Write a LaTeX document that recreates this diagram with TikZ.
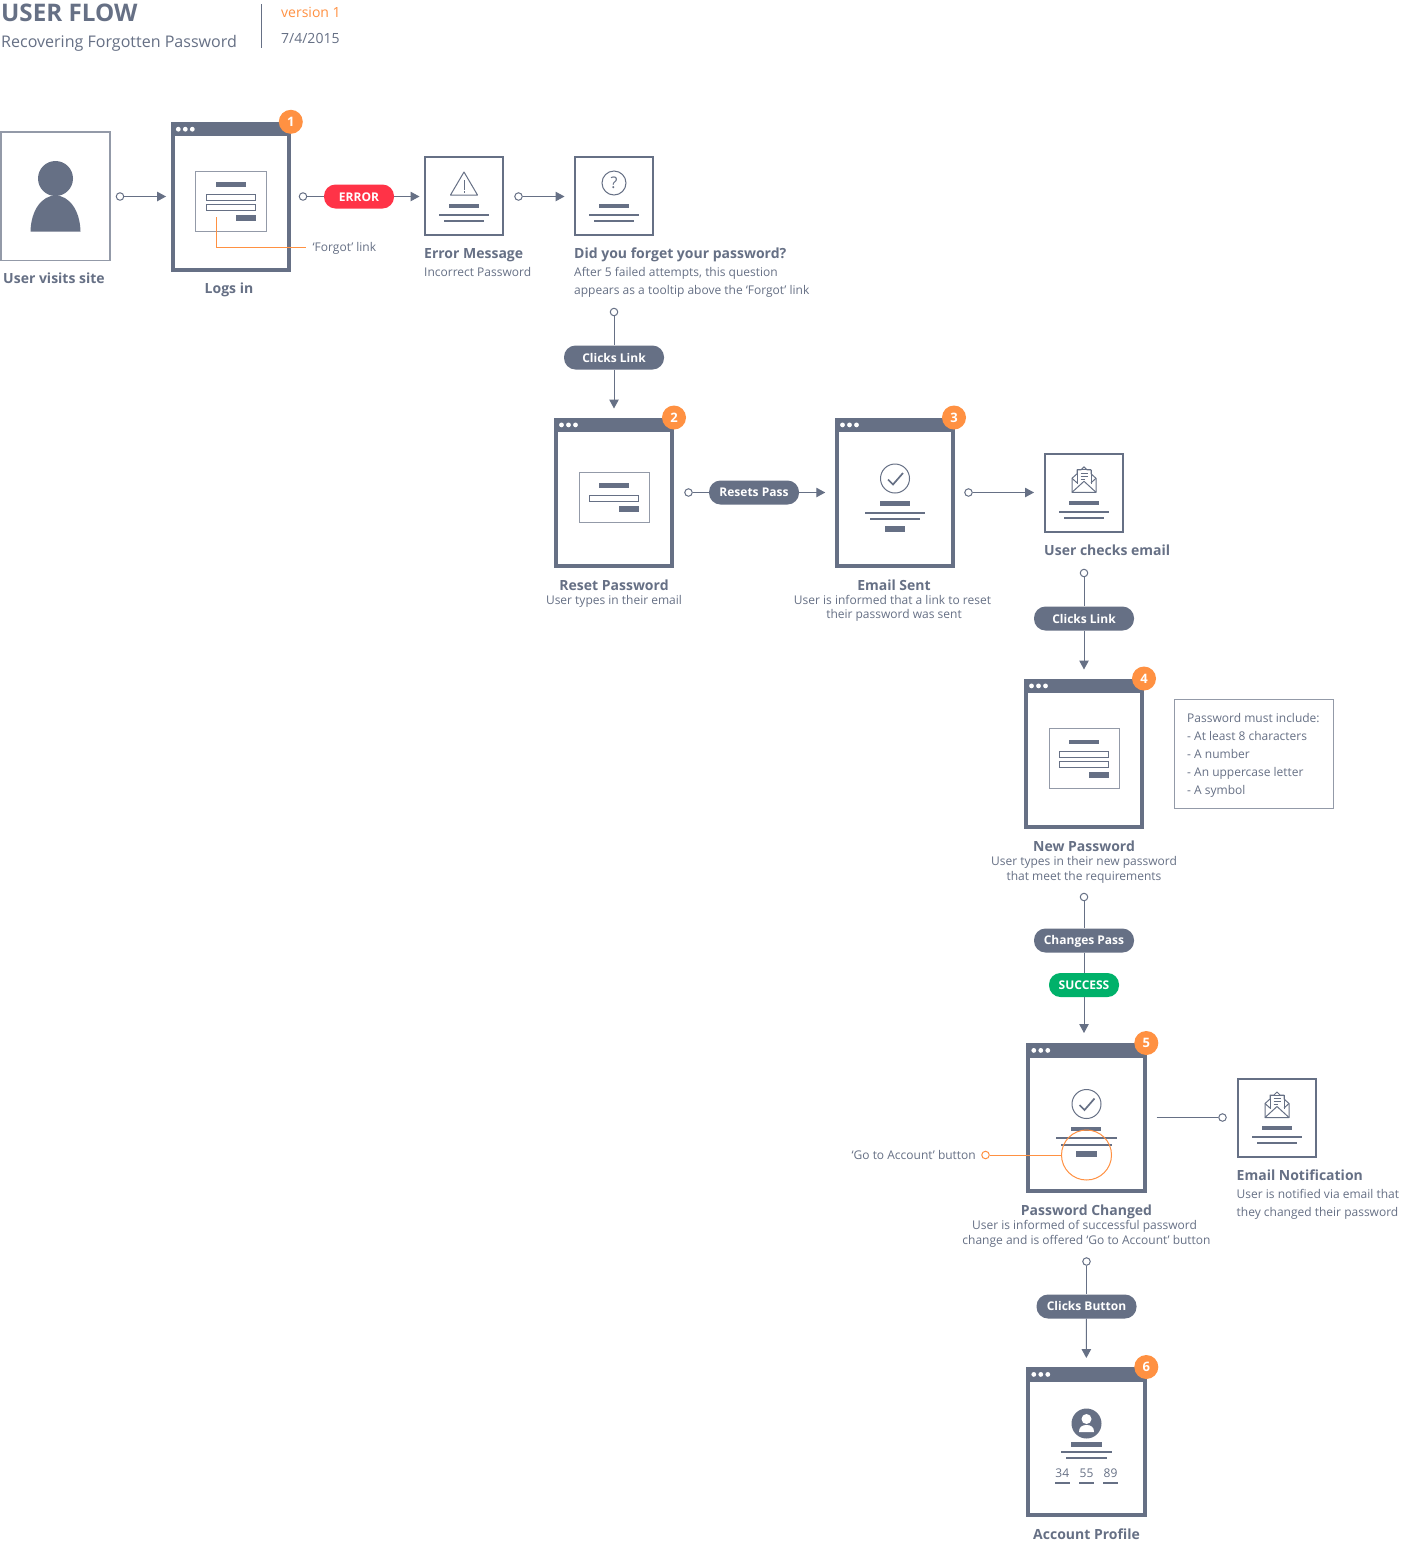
\documentclass[tikz,border=0pt]{standalone}
\usepackage{fontspec}
\setmainfont{Open Sans}
\usetikzlibrary{arrows.meta}
\definecolor{ink}{HTML}{667085}
\definecolor{soft}{HTML}{939AA8}
\definecolor{org}{HTML}{FF9142}
\definecolor{redp}{HTML}{FF3347}
\definecolor{grn}{HTML}{00B16A}
\newcommand{\fs}[2]{\fontsize{#1}{#2}\selectfont}
\newcommand{\bdgx}{60}
\tikzset{
  screenbox/.style={draw=ink,line width=4pt,fill=white,minimum width=116.5pt,minimum height=146pt,inner sep=0pt},
  iconbox/.style={draw=ink,line width=2pt,fill=white,minimum width=78pt,minimum height=78pt,inner sep=0pt},
  badge/.style={circle,fill=org,text=white,font=\bfseries\fs{13}{15},minimum size=24pt,inner sep=0pt},
  pillbox/.style={rounded corners=11.5pt,fill=ink,text=white,font=\bfseries\fs{12}{14},minimum height=24pt,inner sep=0pt,text height=10pt,text depth=1pt},
  pillup/.style={pillbox,text height=9pt,text depth=2pt},
  startdot/.style={circle,draw=ink,fill=white,line width=1pt,minimum size=7.5pt,inner sep=0pt},
  orgdot/.style={circle,draw=org,fill=white,line width=1pt,minimum size=7.5pt,inner sep=0pt},
  flow/.style={draw=ink,line width=1pt,-{Triangle[length=9pt,width=9.5pt]}},
  plainflow/.style={draw=ink,line width=1pt},
  callout/.style={draw=org,line width=1pt},
  head/.style={text=ink,font=\bfseries\fs{14}{17},inner sep=0pt},
  body/.style={text=ink,font=\fs{12}{14.5},inner sep=0pt,align=center},
  leftbody/.style={text=ink,font=\fs{12}{18},inner sep=0pt,align=left,anchor=north west},
}
% window with title bar and number badge
\newcommand{\screen}[4]{%
  \node[screenbox] (#1) at (#2,#3) {};
  \begin{scope}[shift={(#2,#3)}]
    \fill[ink] (-60,-75) rectangle (60,-60.5);
    \foreach \dx in {7.5,14.5,21.5} \fill[white] (-60+\dx,-67.6) circle (2.4);
    \node[badge] (#1num) at (\bdgx,-75) {#4};
  \end{scope}}
\newcommand{\formbar}[4]{\fill[ink] (#1,#2) rectangle (#3,#4);}
\newcommand{\envelope}[2]{%
  \begin{scope}[shift={(#1,#2)},draw=ink,line width=1pt,line join=round]
    \draw (-12,11.5) -- (-12,25.5) -- (12,25.5) -- (12,11.5) -- (7,7) -- (7,3) -- (3,3) -- (0,0) -- (-3,3) -- (-7,3) -- (-7,7) -- cycle;
    \draw (-7,3) -- (7,3) (-7,3) -- (-7,17) (7,3) -- (7,17);
    \draw (-12,11.5) -- (-7,16) (12,11.5) -- (7,16);
    \draw (-12,25.5) -- (0,14.5) -- (12,25.5);
    \draw (-3.5,6.5) -- (3.5,6.5) (-3.5,9.5) -- (3.5,9.5) (-3.5,12.5) -- (1,12.5);
  \end{scope}}
\newcommand{\boxbars}[2]{%
  \begin{scope}[shift={(#1,#2)}]
    \fill[ink] (-15,0) rectangle (15,4);
    \fill[ink] (-25,10) rectangle (25,12);
    \fill[ink] (-20,16) rectangle (20,18);
  \end{scope}}
\begin{document}
\begin{tikzpicture}[x=1pt,y=-1pt]
\useasboundingbox (0,0) rectangle (1402,1543);
\fill[white] (0,0) rectangle (1402,1543);

% header
\node[anchor=base west,inner sep=0pt,text=ink,font=\bfseries\fs{24.2}{28}] (title) at (1,21) {USER FLOW};
\node[anchor=base west,inner sep=0pt,text=ink,font=\fs{16.05}{19}] (subtitle) at (1,47) {Recovering Forgotten Password};
\node[anchor=base west,inner sep=0pt,text=org,font=\fs{14}{16}] (version) at (281,17) {version 1};
\node[anchor=base west,inner sep=0pt,text=ink,font=\fs{14}{16}] (date) at (281,43) {7/4/2015};
\coordinate (rulet) at (261.5,4);
\coordinate (ruleb) at (261.5,48);
\draw[ink,line width=1pt] (rulet) -- (ruleb);

% user box
\node[draw=soft,line width=1.5pt,fill=white,minimum width=109pt,minimum height=128.5pt,inner sep=0pt] (user) at (55.5,196.2) {};
\fill[ink] (55.5,178.5) circle (17.5);
\fill[ink] (30.5,231.5) .. controls (31,210) and (42,195.5) .. (55.5,195.5) .. controls (69,195.5) and (80,210) .. (80.5,231.5) -- cycle;
\node[head] (userl) at (54,278) {User visits site};

% window 1
\screen{win1}{230.8}{196.8}{1}
\node[draw=soft,line width=1pt,fill=white,minimum width=70.5pt,minimum height=60pt,inner sep=0pt] (form1) at (230.8,201) {};
\formbar{216}{182}{246}{186.5}
\draw[ink,line width=1pt] (206.5,194.5) rectangle (255.5,200);
\draw[ink,line width=1pt] (206.5,204.5) rectangle (255.5,210);
\formbar{236}{214.5}{256}{220.5}
\node[head] (logl) at (229,290) {Logs in};
\coordinate (fg0) at (216.5,217);
\coordinate (fg1) at (306,247);
\draw[callout] (fg0) |- (fg1);
\node[anchor=west,inner sep=0pt,text=ink,font=\fs{12}{14}] (fgl) at (312.5,248) {‘Forgot’ link};

% row 1 connectors
\node[startdot] (d1) at (120,196.5) {};
\draw[flow,shorten >=4.5pt] (d1) -- (win1.west |- d1);
\node[startdot] (d2) at (303,196.5) {};
\node[pillbox,fill=redp,minimum width=70pt] (err) at (359,196.5) {ERROR};
\draw[plainflow] (d2) -- (err);

% error box
\node[iconbox] (ebox) at (464,196) {};
\draw[ink,line width=1pt,line join=round] (464,172) -- (450.5,195) -- (477.5,195) -- cycle;
\draw[ink,line width=1pt] (464,180) -- (464,189.5) (464,191) -- (464,192.5);
\boxbars{464}{203.5}
\draw[flow,shorten >=4.5pt] (err) -- (ebox.west |- err);
\node[head,anchor=base west] (el) at (424,258) {Error Message};
\node[body,anchor=base west] (el2) at (424,276) {Incorrect Password};

% question box
\node[iconbox] (qbox) at (614,196) {};
\draw[ink,line width=1pt] (614,183) circle (12);
\node[inner sep=0pt,text=ink,font=\fs{16}{18}] (qm) at (614,183) {?};
\boxbars{614}{203.5}
\node[startdot] (d3) at (518.5,196.5) {};
\draw[flow,shorten >=9.5pt] (d3) -- (qbox.west |- d3);
\node[head,anchor=base west] (ql) at (574,258) {Did you forget your password?};
\node[leftbody] (ql2) at (574,267) {After 5 failed attempts, this question\\appears as a tooltip above the ‘Forgot’ link};

% to window 2
\node[startdot] (d4) at (614,312) {};
\node[pillbox,minimum width=100pt] (p1) at (614,357.5) {Clicks Link};
\screen{win2}{614}{492.5}{2}
\draw[plainflow] (d4) -- (p1);
\draw[flow,shorten >=9pt] (p1) -- (win2.north);
\node[draw=soft,line width=1pt,fill=white,minimum width=70pt,minimum height=50.5pt,inner sep=0pt] (form2) at (614,497.5) {};
\formbar{599}{483}{629}{488}
\draw[ink,line width=1pt] (589.5,495.5) rectangle (638.5,501);
\formbar{619}{505.5}{639}{511.5}
\node[head] (rl) at (614,585) {Reset Password};
\node[body] (rl2) at (614,601.5) {User types in their email};

% window 3
\renewcommand{\bdgx}{59}
\screen{win3}{895}{492.5}{3}
\renewcommand{\bdgx}{60}
\node[startdot] (d5) at (688.5,492.5) {};
\node[pillup,minimum width=90pt] (p2) at (754,492.5) {Resets Pass};
\draw[plainflow] (d5) -- (p2);
\draw[flow,shorten >=9.5pt] (p2) -- (win3.west);
\draw[ink,line width=1pt] (895,478.5) circle (14.5);
\draw[ink,line width=1.7pt] (888,479.5) -- (893,484.5) -- (903,473);
\fill[ink] (880,501) rectangle (910,505.5);
\fill[ink] (865,511.5) rectangle (925,513.5);
\fill[ink] (870,517.5) rectangle (920,519.5);
\fill[ink] (885,525.5) rectangle (905,531.5);
\node[head] (sl) at (894,585) {Email Sent};
\node[body,font=\fs{12}{14}] (sl2) at (892.5,608.5) {User is informed that a link to reset\\\hspace*{3pt}their password was sent};

% email box
\node[iconbox] (mbox) at (1084,493) {};
\envelope{1084}{466.8}
\boxbars{1084}{500.5}
\node[startdot] (d6) at (968.5,492.5) {};
\draw[flow,shorten >=10pt] (d6) -- (mbox.west |- d6);
\node[head,anchor=base west] (ml) at (1044,555) {User checks email};

% to window 4
\node[startdot] (d7) at (1084,573) {};
\node[pillbox,minimum width=100pt] (p3) at (1084,618.5) {Clicks Link};
\screen{win4}{1084}{753.5}{4}
\draw[plainflow] (d7) -- (p3);
\draw[flow,shorten >=9pt] (p3) -- (win4.north);
\node[draw=soft,line width=1pt,fill=white,minimum width=70pt,minimum height=60.5pt,inner sep=0pt] (form4) at (1084,758.5) {};
\formbar{1069}{739.5}{1099}{744}
\draw[ink,line width=1pt] (1059.5,751.5) rectangle (1108.5,757);
\draw[ink,line width=1pt] (1059.5,761.5) rectangle (1108.5,767);
\formbar{1089}{772}{1109}{778}
\node[head] (nl) at (1084,846) {New Password};
\node[body,font=\fs{12}{15}] (nl2) at (1084,870) {User types in their new password\\that meet the requirements};

% note
\node[draw=soft,line width=1pt,fill=white,minimum width=159pt,minimum height=109pt,inner sep=0pt] (note) at (1254,753.5) {};
\node[leftbody] (notet) at (1187,713.5) {Password must include:\\- At least 8 characters\\- A number\\- An uppercase letter\\- A symbol};

% to window 5
\node[startdot] (d8) at (1084,897) {};
\node[pillup,minimum width=100pt] (p4) at (1084,940.5) {Changes Pass};
\node[pillbox,fill=grn,minimum width=70pt] (p5) at (1084,985) {SUCCESS};
\screen{win5}{1086.3}{1118}{5}
\draw[plainflow] (d8) -- (p4);
\draw[plainflow] (p4) -- (p5);
\coordinate (t5) at (1084,1033);
\draw[flow] (p5) -- (t5);
\draw[ink,line width=1pt] (1086.5,1104) circle (14.5);
\draw[ink,line width=1.7pt] (1079.5,1105) -- (1084.5,1110) -- (1094.5,1098.5);
\fill[ink] (1071,1127) rectangle (1101,1131);
\fill[ink] (1056,1137) rectangle (1116.5,1139);
\fill[ink] (1061,1143.5) rectangle (1111.5,1145.5);
\fill[ink] (1076,1151) rectangle (1096.5,1157);
\node[circle,draw=org,line width=1pt,minimum size=50pt,inner sep=0pt] (hl) at (1086.5,1155) {};
\node[orgdot] (d9) at (985.5,1155) {};
\draw[callout] (d9) -- (hl);
\node[anchor=east,inner sep=0pt,text=ink,font=\fs{12}{14}] (gl) at (976,1155) {‘Go to Account’ button};
\node[head] (pl) at (1086.5,1211.5) {Password Changed};
\node[body,font=\fs{12}{15}] (pl2) at (1086.5,1233.5) {User is informed of successful password\hspace*{4pt}\\change and is offered ‘Go to Account’ button};

% email notification
\node[iconbox] (nbox) at (1276.5,1118) {};
\envelope{1277}{1092}
\boxbars{1276.5}{1125.5}
\coordinate (n0) at (1156.5,1117.5);
\node[startdot] (d10) at (1222.5,1117.5) {};
\draw[plainflow] (n0) -- (d10);
\node[head,anchor=base west] (nt) at (1236.5,1180) {Email Notification};
\node[leftbody] (nt2) at (1236.5,1189) {User is notified via email that\\they changed their password};

% to window 6
\node[startdot] (d11) at (1086.5,1261.5) {};
\node[pillup,minimum width=100pt] (p6) at (1086.5,1306.5) {Clicks Button};
\screen{win6}{1086.3}{1442}{6}
\draw[plainflow] (d11) -- (p6);
\draw[flow,shorten >=9pt] (p6) -- (win6.north);
\fill[ink] (1086.5,1423.5) circle (15);
\fill[white] (1086.5,1419) circle (5);
\fill[white] (1079,1432) .. controls (1079,1427) and (1082,1425) .. (1086.5,1425) .. controls (1091,1425) and (1094,1427) .. (1094,1432) -- cycle;
\fill[ink] (1071,1442) rectangle (1101.5,1446.5);
\fill[ink] (1061,1450.5) rectangle (1111.5,1452.5);
\fill[ink] (1066,1456.5) rectangle (1106.5,1458.5);
\node[inner sep=0pt,text=ink,font=\fs{12}{14}] (s1) at (1062.3,1473.5) {34};
\node[inner sep=0pt,text=ink,font=\fs{12}{14}] (s2) at (1086.5,1473.5) {55};
\node[inner sep=0pt,text=ink,font=\fs{12}{14}] (s3) at (1110.5,1473.5) {89};
\fill[ink] (1055,1481.5) rectangle (1069.5,1483.5);
\fill[ink] (1079,1481.5) rectangle (1093.5,1483.5);
\fill[ink] (1103,1481.5) rectangle (1117.5,1483.5);
\node[head] (al) at (1086.5,1534) {Account Profile};
\end{tikzpicture}
\end{document}
